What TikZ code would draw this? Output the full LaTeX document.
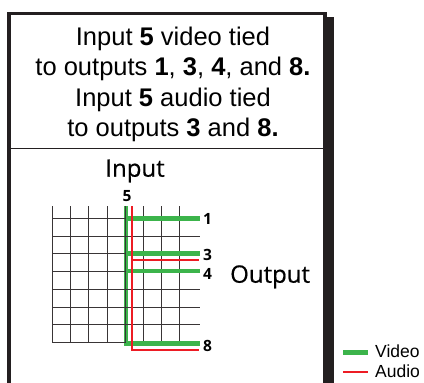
\documentclass[tikz,border=0pt]{standalone}
\usepackage{fontspec}
\setmainfont{Liberation Sans}
\newfontfamily\labelfont{Open Sans}
\newfontfamily\biglabelfont[FakeBold=0.6]{Open Sans}
\definecolor{vgreen}{RGB}{60,180,75}
\definecolor{ared}{RGB}{237,28,36}
\definecolor{ink}{RGB}{35,31,32}
\tikzset{
  headtext/.style={anchor=base, inner sep=0pt, font=\fontsize{25.5bp}{30bp}\selectfont},
  bigsans/.style={inner sep=0pt, font=\biglabelfont\fontsize{24bp}{28bp}\selectfont},
  numlabel/.style={inner sep=0pt, font=\labelfont\bfseries\fontsize{15.5bp}{17bp}\selectfont},
  legtext/.style={anchor=west, inner sep=0pt, font=\fontsize{17.5bp}{20bp}\selectfont},
  gridline/.style={draw=ink!90, line width=0.9bp},
  video/.style={draw=vgreen, line width=4.5bp},
  audio/.style={draw=ared, line width=2.2bp},
  frame/.style={fill=ink}
}
\begin{document}
\begin{tikzpicture}[x=1bp,y=-1bp]
\useasboundingbox (0,0) rectangle (424,383);
% frame
\fill[frame] (7,12) rectangle (327,15);
\fill[frame] (7,12) rectangle (11,383);
\fill[frame] (323,12) rectangle (327,383);
\fill[frame] (327,17) rectangle (334,383);
\draw[draw=ink, line width=1.6bp] (11,148.5) -- (323,148.5);
% heading text
\node[headtext] (t1) at (173,45) {Input \textbf{5} video tied};
\node[headtext] (t2) at (173,75.5) {to outputs \textbf{1}, \textbf{3}, \textbf{4}, and \textbf{8.}};
\node[headtext] (t3) at (173,106) {Input \textbf{5} audio tied};
\node[headtext] (t4) at (173,136.5) {to outputs \textbf{3} and \textbf{8.}};
% labels
\node[bigsans, anchor=base] (inlab) at (135,176.7) {Input};
\node[bigsans, anchor=base west] (outlab) at (230,282.7) {Output};
% coordinates
\coordinate (in5) at (125.5,206);
\coordinate (o1) at (200,218.3);
\coordinate (o3) at (200,253.6);
\coordinate (o4) at (200,271.1);
\coordinate (o8) at (200,343.3);
\coordinate (ain5) at (132,206);
\coordinate (ao3) at (199,259.6);
\coordinate (ao8) at (199,350);
% green vertical under grid
\draw[video, line width=4bp] (in5) -- (125.5,345.5);
% grid
\foreach \i in {0,...,7} {
  \draw[gridline] (52.7+\i*18.12,206) -- (52.7+\i*18.12,342.7);
}
\foreach \j in {0,...,7} {
  \draw[gridline] (52,218.3+\j*17.77) -- (200,218.3+\j*17.77);
}
% video ties
\draw[video] (in5 |- o1) -- (o1);
\draw[video] (in5 |- o3) -- (o3);
\draw[video] (in5 |- o4) -- (o4);
\draw[video] (in5 |- o8) -- (o8);
% audio ties
\draw[audio] (ain5) |- (ao8);
\draw[audio] (ain5 |- ao3) -- (ao3);
% numbers
\node[numlabel, anchor=base] (n5) at (127,201.7) {5};
\node[numlabel, anchor=west] (n1) at (203,219) {1};
\node[numlabel, anchor=west] (n3) at (203,255.3) {3};
\node[numlabel, anchor=west] (n4) at (203,274.3) {4};
\node[numlabel, anchor=west] (n8) at (203,345.7) {8};
% legend
\coordinate (lv1) at (343,352.3);
\coordinate (lv2) at (368,352.3);
\coordinate (la1) at (343,372.2);
\coordinate (la2) at (368,372.2);
\draw[video] (lv1) -- (lv2);
\draw[audio] (la1) -- (la2);
\node[legtext, anchor=base west] (vid) at (375,357.7) {Video};
\node[legtext, anchor=base west] (aud) at (375,377.7) {Audio};
\end{tikzpicture}
\end{document}
